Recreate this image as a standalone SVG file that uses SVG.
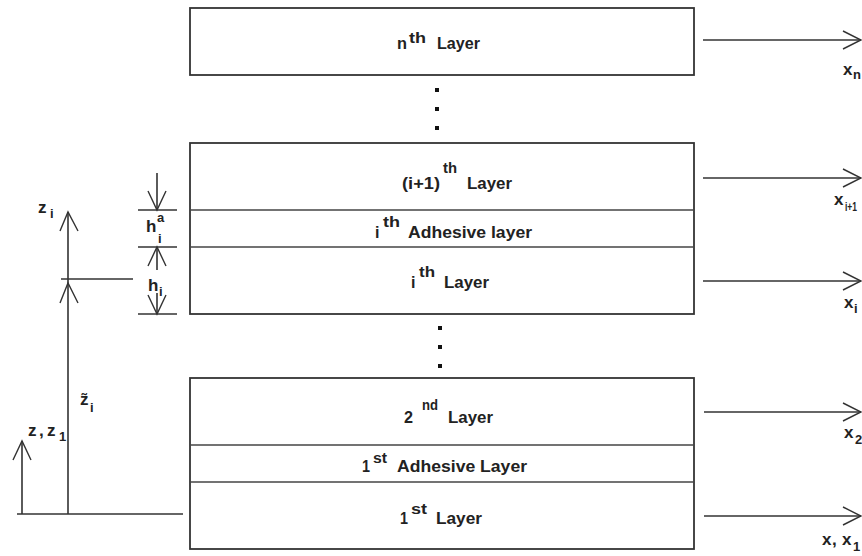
<svg xmlns="http://www.w3.org/2000/svg" width="862" height="556" viewBox="0 0 862 556">
<style>
.box{fill:#fff;stroke:#333;stroke-width:1.8}
.sep{stroke:#444;stroke-width:1.4}
.ln{stroke:#333;stroke-width:1.6;fill:none}
.ah{stroke:#333;stroke-width:1.4;fill:none}
text{font-family:"Liberation Sans",Arial,sans-serif;font-size:16px;fill:#222;font-weight:bold}
.sup{font-size:14px}
.ax{font-size:17px}
.sub{font-size:13px}
.dot{fill:#111}
</style>
<rect width="862" height="556" fill="#fff"/>
<g id="layer-n">
<rect class="box" x="190" y="8" width="504" height="67"/>
<text x="397" y="49" textLength="10" lengthAdjust="spacingAndGlyphs">n</text>
<text class="sup" x="409" y="43" textLength="17" lengthAdjust="spacingAndGlyphs">th</text>
<text x="437" y="49" textLength="43" lengthAdjust="spacingAndGlyphs">Layer</text>
</g>
<g id="dots-top">
<rect class="dot" x="435" y="88" width="4" height="4"/>
<rect class="dot" x="435" y="107" width="4" height="4"/>
<rect class="dot" x="435" y="126" width="4" height="4"/>
</g>
<g id="layer-i-group">
<rect class="box" x="190" y="143" width="504" height="171"/>
<line class="sep" x1="190" y1="210" x2="694" y2="210"/>
<line class="sep" x1="190" y1="247" x2="694" y2="247"/>
</g>
<g id="layer-i1">
<text x="402" y="189" textLength="38" lengthAdjust="spacingAndGlyphs">(i+1)</text>
<text class="sup" x="443" y="173" textLength="14" lengthAdjust="spacingAndGlyphs">th</text>
<text x="467" y="189" textLength="45" lengthAdjust="spacingAndGlyphs">Layer</text>
</g>
<g id="adhesive-i">
<text x="375" y="238">i</text>
<text class="sup" x="383" y="227" textLength="17" lengthAdjust="spacingAndGlyphs">th</text>
<text x="408" y="238" textLength="124" lengthAdjust="spacingAndGlyphs">Adhesive layer</text>
</g>
<g id="layer-i">
<text x="411" y="288">i</text>
<text class="sup" x="419" y="277" textLength="16" lengthAdjust="spacingAndGlyphs">th</text>
<text x="444" y="288" textLength="45" lengthAdjust="spacingAndGlyphs">Layer</text>
</g>
<g id="dots-bottom">
<rect class="dot" x="438" y="326" width="4" height="4"/>
<rect class="dot" x="438" y="345" width="4" height="4"/>
<rect class="dot" x="438" y="364" width="4" height="4"/>
</g>
<g id="layer-1-group">
<rect class="box" x="190" y="378" width="504" height="171"/>
<line class="sep" x1="190" y1="445" x2="694" y2="445"/>
<line class="sep" x1="190" y1="482" x2="694" y2="482"/>
</g>
<g id="layer-2">
<text x="404" y="423" textLength="9" lengthAdjust="spacingAndGlyphs">2</text>
<text class="sup" x="422" y="410" textLength="16" lengthAdjust="spacingAndGlyphs">nd</text>
<text x="448" y="423" textLength="45" lengthAdjust="spacingAndGlyphs">Layer</text>
</g>
<g id="adhesive-1">
<text x="362" y="472" textLength="8" lengthAdjust="spacingAndGlyphs">1</text>
<text class="sup" x="373" y="463" textLength="14" lengthAdjust="spacingAndGlyphs">st</text>
<text x="397" y="472" textLength="130" lengthAdjust="spacingAndGlyphs">Adhesive Layer</text>
</g>
<g id="layer-1">
<text x="400" y="524" textLength="8" lengthAdjust="spacingAndGlyphs">1</text>
<text class="sup" x="411" y="514" textLength="16" lengthAdjust="spacingAndGlyphs">st</text>
<text x="436" y="524" textLength="46" lengthAdjust="spacingAndGlyphs">Layer</text>
</g>

<g id="connectors">
<line class="ln" x1="703" y1="40" x2="861" y2="40"/>
<polyline class="ah" points="843,31 861,40 843,49"/>
<line class="ln" x1="703" y1="178" x2="861" y2="178"/>
<polyline class="ah" points="843,169 861,178 843,187"/>
<line class="ln" x1="703" y1="281" x2="861" y2="281"/>
<polyline class="ah" points="843,272 861,281 843,290"/>
<line class="ln" x1="704" y1="412" x2="861" y2="412"/>
<polyline class="ah" points="843,403 861,412 843,421"/>
<line class="ln" x1="704" y1="516" x2="861" y2="516"/>
<polyline class="ah" points="843,507 861,516 843,525"/>
<line class="ln" x1="17" y1="514" x2="183" y2="514"/>
<line class="ln" x1="22" y1="514" x2="22" y2="441"/>
<polyline class="ah" points="13,460 22,441 31,460"/>
<line class="ln" x1="68" y1="514" x2="68" y2="212"/>
<polyline class="ah" points="60,231 68,212 78,231"/>
<polyline class="ah" points="60,303 68,283 78,303"/>
<line class="ln" x1="61" y1="279" x2="133" y2="279"/>
<line class="ln" x1="138" y1="210" x2="177" y2="210"/>
<line class="ln" x1="138" y1="247" x2="177" y2="247"/>
<line class="ln" x1="138" y1="314" x2="177" y2="314"/>
<line class="ln" x1="157" y1="173" x2="157" y2="210"/>
<polyline class="ah" points="148,191 157,210 166,191"/>
<line class="ln" x1="157" y1="247" x2="157" y2="270"/>
<polyline class="ah" points="148,266 157,247 166,266"/>
<line class="ln" x1="157" y1="293" x2="157" y2="314"/>
<polyline class="ah" points="148,295 157,314 166,295"/>
</g>

<g id="labels">
<text class="ax" x="38" y="213">z</text><text class="sub" x="50" y="218">i</text>
<text class="ax" x="146" y="232">h</text><text class="sub" x="157" y="222">a</text><text class="sub" x="158" y="243">i</text>
<text class="ax" x="148" y="291">h</text><text class="sub" x="159" y="296">i</text>
<text class="ax" x="28" y="436">z</text><text class="ax" x="39" y="436">,</text><text class="ax" x="47" y="436">z</text><text class="sub" x="59" y="441">1</text>
<text class="ax" x="80" y="405">z̃</text><text class="sub" x="90" y="412">i</text>
<text class="ax" x="843" y="75">x</text><text class="sub" x="853" y="79">n</text>
<text class="ax" x="834" y="205">x</text><text class="sub" x="845" y="211" textLength="12" lengthAdjust="spacingAndGlyphs">i+1</text>
<text class="ax" x="844" y="308">x</text><text class="sub" x="854" y="313">i</text>
<text class="ax" x="844" y="438">x</text><text class="sub" x="855" y="444">2</text>
<text class="ax" x="822" y="545">x</text><text class="ax" x="832" y="545">,</text><text class="ax" x="842" y="545">x</text><text class="sub" x="853" y="551">1</text>
</g>
</svg>
